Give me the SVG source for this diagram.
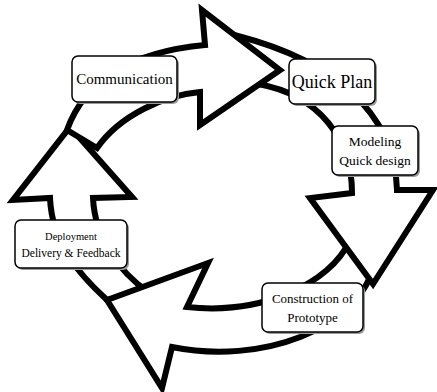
<svg xmlns="http://www.w3.org/2000/svg" width="437" height="392" viewBox="0 0 437 392">
<style>
.arrow{fill:#fff;stroke:#000;stroke-width:6;stroke-linejoin:miter;stroke-miterlimit:10}
.box{fill:#fff;stroke:#000;stroke-width:1.5}
.shadow{fill:#9a9a9a}
.lbl{font-family:"Liberation Serif","DejaVu Serif",serif;fill:#000;text-anchor:middle}
</style>
<rect width="437" height="392" fill="#fff"/>
<g id="connectors">
<path id="arrow-left" class="arrow" d="M 107,300 C 80,275 52,245 50,198 L 13,200 L 70,127 L 132,197 L 93,198 C 95,240 120,272 148,292 Z"/>
<path id="arrow-bottom" class="arrow" d="M 107,300 L 208,263 L 187,307 C 260,315 330,285 350,240 L 375,262 C 360,330 260,365 172,347 L 162,388 Z"/>
<path id="arrow-right" class="arrow" d="M 238,36 C 330,60 395,110 397,190 L 433,190 L 373,284 L 310,198 L 352,193 C 352,140 320,95 258,84 Z"/>
<path id="arrow-top" class="arrow" d="M 67,130 C 85,80 130,52 205,45 L 202,10 L 280,70 L 200,125 L 200,92 C 165,95 120,115 97,148 Z"/>
</g>
<g id="node-communication">
<rect class="shadow" x="74" y="58" width="105" height="46" rx="6"/>
<rect class="box" x="72" y="56" width="105" height="46" rx="6"/>
<text class="lbl" x="124.5" y="84" font-size="15">Communication</text>
</g>
<g id="node-quickplan">
<rect class="shadow" x="291" y="61" width="86" height="45" rx="6"/>
<rect class="box" x="289" y="59" width="86" height="45" rx="6"/>
<text class="lbl" x="332" y="88" font-size="18">Quick Plan</text>
</g>
<g id="node-modeling">
<rect class="shadow" x="334" y="128" width="86" height="49" rx="6"/>
<rect class="box" x="332" y="126" width="86" height="49" rx="6"/>
<text class="lbl" x="375" y="146" font-size="13.5">Modeling</text>
<text class="lbl" x="375" y="165" font-size="13.5">Quick design</text>
</g>
<g id="node-deployment">
<rect class="shadow" x="17" y="222" width="112" height="48" rx="6"/>
<rect class="box" x="15" y="220" width="112" height="48" rx="6"/>
<text class="lbl" x="71" y="240" font-size="10.5">Deployment</text>
<text class="lbl" x="71" y="257" font-size="11.5">Delivery &amp; Feedback</text>
</g>
<g id="node-construction">
<rect class="shadow" x="264" y="285" width="101" height="49" rx="6"/>
<rect class="box" x="262" y="283" width="101" height="49" rx="6"/>
<text class="lbl" x="312.5" y="303" font-size="13">Construction of</text>
<text class="lbl" x="312.5" y="322" font-size="13">Prototype</text>
</g>
</svg>
